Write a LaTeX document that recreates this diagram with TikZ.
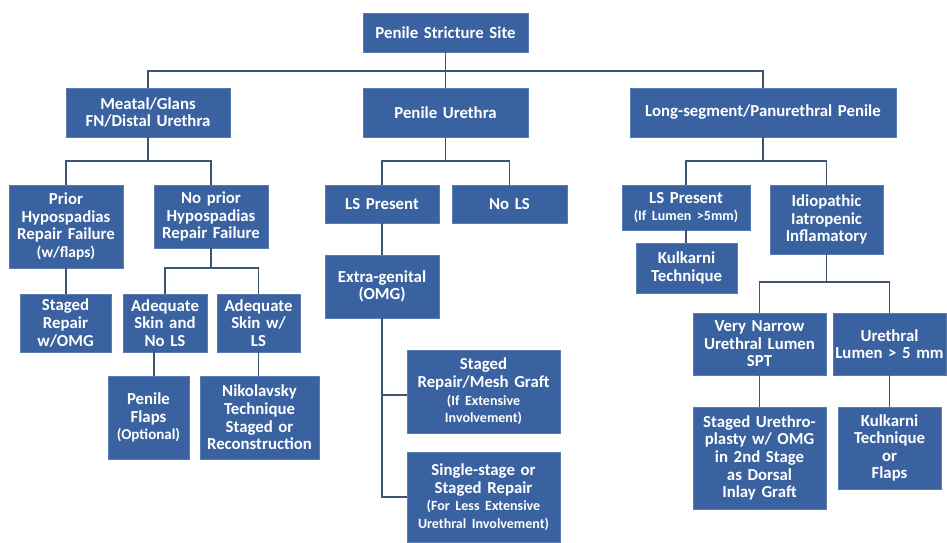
\documentclass[tikz,border=0pt]{standalone}
\usepackage{fontspec}
\setmainfont{Carlito}
\usetikzlibrary{calc}
\definecolor{boxfill}{RGB}{58,98,160}
\definecolor{boxline}{RGB}{88,125,178}
\definecolor{conn}{RGB}{62,84,118}
\tikzset{
  bx/.style={draw=boxline, line width=0.8pt, fill=boxfill, text=white, font=\bfseries\fontsize{16.8}{17.6}\selectfont,
    align=center, inner sep=1pt},
  ln/.style={draw=conn, line width=1.7pt}
}
\newcommand{\smtxt}[1]{{\fontsize{14}{16}\selectfont #1}}
\newcommand{\bxn}[7]{% name, x1,y1,x2,y2, text
  \node[bx, minimum width={#4-#2}, minimum height={#5-#3}, text width={#4-#2-2}, #7] (#1) at ({(#2+#4)/2},{(#3+#5)/2}) {#6};}
\begin{document}
\begin{tikzpicture}[x=1pt,y=-1pt]
\useasboundingbox[fill=white] (0,0) rectangle (947,542);
% bus coordinates
\coordinate (b0) at (0,71);
\coordinate (b1) at (0,161);
\coordinate (b2) at (0,268);
\coordinate (b3) at (0,282);
\coordinate (b4) at (0,395);
\coordinate (xfl) at (154,0);
% boxes
\bxn{root}{363}{13}{528}{52}{Penile Stricture Site}{}
\bxn{meatal}{66}{88}{230}{137}{Meatal/Glans\\FN/Distal Urethra}{}
\bxn{penile}{363}{88}{528}{137}{Penile Urethra}{}
\bxn{long}{630}{88}{896}{137}{Long-segment/Panurethral Penile}{}
\bxn{prior}{9}{185}{123}{268}{Prior\\Hypospadias\\Repair Failure\\{\fontsize{15.5}{17.6}\selectfont(w/flaps)}}{}
\bxn{noprior}{154}{185}{268}{248}{No prior\\Hypospadias\\Repair Failure}{}
\bxn{staged}{20}{294}{111}{352}{Staged\\Repair\\w/OMG}{}
\bxn{adeqA}{123}{294}{207}{352}{Adequate\\Skin and\\No LS}{}
\bxn{adeqB}{217}{294}{300}{352}{Adequate\\Skin w/\\LS}{}
\bxn{flaps}{108}{376}{189}{459}{Penile\\Flaps\\{\fontsize{15}{17.6}\selectfont(Optional)}}{}
\bxn{nikol}{200}{376}{319}{459}{Nikolavsky\\Technique\\Staged or\\Reconstruction}{}
\bxn{lsp}{325}{185}{439}{223}{LS Present}{}
\bxn{nols}{452}{185}{567}{223}{No LS}{}
\bxn{extra}{325}{255}{439}{318}{Extra-genital\\(OMG)}{}
\bxn{mesh}{407}{350}{560}{433}{Staged\\Repair/Mesh Graft\\\smtxt{(If Extensive}\\\smtxt{Involvement)}}{}
\bxn{single}{407}{452}{560}{542}{Single-stage or\\Staged Repair\\\smtxt{(For Less Extensive}\\\smtxt{Urethral Involvement)}}{}
\bxn{lspb}{622}{185}{750}{230}{LS Present\\{\fontsize{14}{16}\selectfont(If Lumen >5mm)}}{}
\bxn{kulk}{636}{243}{737}{293}{Kulkarni\\Technique}{}
\bxn{idio}{770}{185}{883}{254}{Idiopathic\\Iatropenic\\Inflamatory}{}
\bxn{narrow}{693}{313}{826}{375}{Very Narrow\\Urethral Lumen\\SPT}{}
\bxn{lumen}{833}{313}{946}{375}{Urethral\\Lumen > 5 mm}{}
\bxn{urethro}{693}{407}{826}{509}{Staged Urethro-\\plasty w/ OMG\\in 2nd Stage\\as Dorsal\\Inlay Graft}{}
\bxn{kulkb}{838}{407}{941}{489}{Kulkarni\\Technique\\or\\Flaps}{}
% connectors level 1
\draw[ln] (root.south) -- (penile.north);
\draw[ln] (meatal.north) -- (meatal.north |- b0) -- (long.north |- b0) -- (long.north);
% meatal
\draw[ln] (meatal.south) -- (meatal.south |- b1);
\draw[ln] (prior.north) -- (prior.north |- b1) -- (noprior.north |- b1) -- (noprior.north);
\draw[ln] (prior.south) -- (staged.north -| prior.south);
\draw[ln] (noprior.south) -- (noprior.south |- b2);
\draw[ln] (adeqA.north) -- (adeqA.north |- b2) -- (adeqB.north |- b2) -- (adeqB.north);
\draw[ln] (adeqA.south -| xfl) -- (flaps.north -| xfl);
\draw[ln] (adeqB.south) -- (nikol.north -| adeqB.south);
% penile urethra
\draw[ln] (penile.south) -- (penile.south |- b1);
\draw[ln] (lsp.north) -- (lsp.north |- b1) -- (nols.north |- b1) -- (nols.north);
\draw[ln] (lsp.south) -- (extra.north);
\draw[ln] (extra.south) -- (extra.south |- single.west) -- (single.west);
\draw[ln] (extra.south |- b4) -- (mesh.west |- b4);
% long segment
\draw[ln] (long.south) -- (long.south |- b1);
\draw[ln] (lspb.north) -- (lspb.north |- b1) -- (idio.north |- b1) -- (idio.north);
\draw[ln] (lspb.south) -- (kulk.north -| lspb.south);
\draw[ln] (idio.south) -- (idio.south |- b3);
\draw[ln] (narrow.north) -- (narrow.north |- b3) -- (lumen.north |- b3) -- (lumen.north);
\draw[ln] (narrow.south) -- (urethro.north);
\draw[ln] (lumen.south) -- (kulkb.north -| lumen.south);
\end{tikzpicture}
\end{document}
